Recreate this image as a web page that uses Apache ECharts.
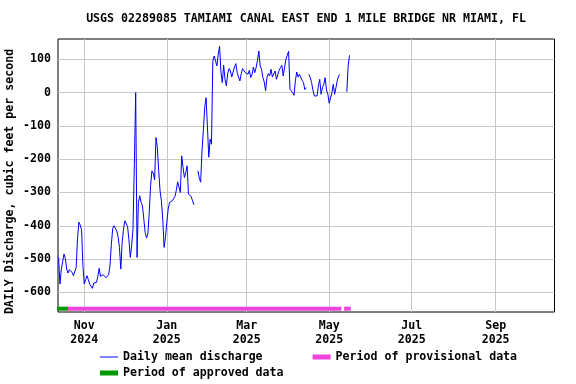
<!DOCTYPE html>
<html><head><meta charset="utf-8">
<script src="https://cdn.jsdelivr.net/npm/echarts@6/dist/echarts.min.js"></script>
<style>html,body{margin:0;padding:0;background:#fff}#c{width:576px;height:384px}</style>
</head><body><div id="c"></div>
<script>
const chartTitle = 'USGS 02289085 TAMIAMI CANAL EAST END 1 MILE BRIDGE NR MIAMI, FL';
const yAxisName = 'DAILY Discharge, cubic feet per second';
const seriesNames = ['Daily mean discharge', 'Period of provisional data', 'Period of approved data'];
// daily mean discharge starting 2024-10-13, one value per day (null = no data)
const startDate = [2024, 10, 13];
const discharge = [
  -495,-575,-532,-508,-485,-498,-530,-542,-532,-530,
  -540,-550,-546,-525,-440,-389,-398,-412,-520,-575,
  -562,-550,-562,-575,-580,-588,-572,-577,-570,-553,
  -528,-552,-552,-547,-542,-556,-558,-547,-520,-457,
  -408,-400,-404,-416,-433,-465,-530,-450,-410,-385,
  -382,-402,-442,-495,-460,-410,-216,0,-495,-330,
  -310,-330,-340,-345,-420,-437,-425,-360,-280,-235,
  -242,-262,-135,-165,-235,-295,-325,-380,-465,-435,
  -390,-350,-330,-332,-325,-322,-312,-294,-268,-272,
  -300,-190,-225,-255,-240,-220,-305,-300,-312,-325,
  -337,null,null,-235,-257,-269,-175,-114,-45,-15,
  -100,-194,-140,-155,95,110,112,80,115,139,
  62,30,82,40,20,57,72,65,47,62,
  77,87,60,47,35,57,72,67,60,65,
  55,67,45,55,77,60,75,97,125,80,
  70,45,32,5,45,57,50,70,47,45,
  65,40,45,67,75,82,50,55,100,112,
  124,10,5,0,-8,35,62,47,55,55,
  37,30,9,15,null,55,45,30,7,-10,
  -5,-10,20,40,-5,15,25,45,8,-5,
  -32,-30,0,25,-5,15,37,50,55,null,
  null,null,null,2,80,112
];
const xTickDates = ['2024-11-01','2025-01-01','2025-03-01','2025-05-01','2025-07-01','2025-09-01'];
const monthNames = ['Jan','Feb','Mar','Apr','May','Jun','Jul','Aug','Sep','Oct','Nov','Dec'];
const yTicks = [100, 0, -100, -200, -300, -400, -500, -600];
const xRange = ['2024-10-12T14:00', '2025-10-14T12:00'];
const yRange = [-659, 161];
const approvedPeriods = [['2024-10-12', '2024-10-20']];
const provisionalPeriods = [['2024-10-20', '2025-05-10'], ['2025-05-12', '2025-05-17']];
const periodLevel = -649;

function ts(s) {
  const m = s.match(/(\d+)-(\d+)-(\d+)(?:T(\d+):(\d+))?/);
  return new Date(+m[1], +m[2] - 1, +m[3], m[4] ? +m[4] : 0, m[5] ? +m[5] : 0).getTime();
}
const seriesData = discharge.map((v, i) => [
  new Date(startDate[0], startDate[1] - 1, startDate[2] + i).getTime(), v
]);
const xTickTs = xTickDates.map(ts);

const font = { fontFamily: 'DejaVu Sans Mono', fontWeight: 'bold', fontSize: 11.6, color: '#000' };
const blue = '#0000FF', pink = '#EE44DD', green = '#009900';
const lineIcon = 'path://M0 0H36V2H0Z';

function periodSeries(periods, name, color) {
  return periods.map(p => ({
    name: name, type: 'line', symbol: 'none', showSymbol: false, z: 4,
    lineStyle: { color: color, width: 4 }, itemStyle: { color: color },
    data: [[ts(p[0]), periodLevel], [ts(p[1]), periodLevel]]
  }));
}

const chart = echarts.init(document.getElementById('c'), null, { renderer: 'canvas' });
chart.setOption({
  animation: false,
  backgroundColor: '#fff',
  title: { text: chartTitle, left: 306, textAlign: 'center', top: 13, padding: 0,
    textStyle: Object.assign({}, font) },
  grid: { left: 58, right: 21.5, top: 39, bottom: 72, show: true, containLabel: false,
    outerBoundsMode: 'none',
    borderColor: '#000', borderWidth: 1, backgroundColor: 'transparent' },
  xAxis: {
    type: 'value', min: ts(xRange[0]), max: ts(xRange[1]),
    axisLine: { show: false },
    axisTick: { show: false, customValues: xTickTs },
    axisLabel: Object.assign({ customValues: xTickTs, margin: 7, lineHeight: 14,
      hideOverlap: false,
      formatter: v => { const d = new Date(v); return monthNames[d.getMonth()] + '\n' + d.getFullYear(); }
    }, font),
    splitLine: { show: true, lineStyle: { color: '#C8C8C8', width: 1 } }
  },
  yAxis: {
    type: 'value', min: yRange[0], max: yRange[1],
    name: yAxisName, nameLocation: 'middle', nameGap: 42, nameRotate: 90,
    nameMoveOverlap: false,
    nameTextStyle: Object.assign({ padding: [0, 12, 0, 0] }, font),
    axisLine: { show: false },
    axisTick: { show: false, customValues: yTicks },
    axisLabel: Object.assign({ customValues: yTicks, margin: 7 }, font),
    splitLine: { show: true, lineStyle: { color: '#C8C8C8', width: 1 } }
  },
  legend: [
    { data: [{ name: seriesNames[0], icon: lineIcon, itemStyle: { color: blue } },
             { name: seriesNames[1], icon: 'rect', itemStyle: { color: pink } }],
      left: 100, top: 351, itemWidth: 18, itemHeight: 5, symbolKeepAspect: true,
      itemGap: 50, selectedMode: false, textStyle: Object.assign({}, font), padding: 0 },
    { data: [{ name: seriesNames[2], icon: 'rect', itemStyle: { color: green } }],
      left: 100, top: 367, itemWidth: 18, itemHeight: 5, symbolKeepAspect: true,
      selectedMode: false, textStyle: Object.assign({}, font), padding: 0 }
  ],
  series: [
    { name: seriesNames[0], type: 'line', symbol: 'none', showSymbol: false, z: 3,
      connectNulls: false, lineStyle: { color: blue, width: 1 }, itemStyle: { color: blue },
      data: seriesData }
  ].concat(periodSeries(provisionalPeriods, seriesNames[1], pink))
   .concat(periodSeries(approvedPeriods, seriesNames[2], green))
});
</script></body></html>
